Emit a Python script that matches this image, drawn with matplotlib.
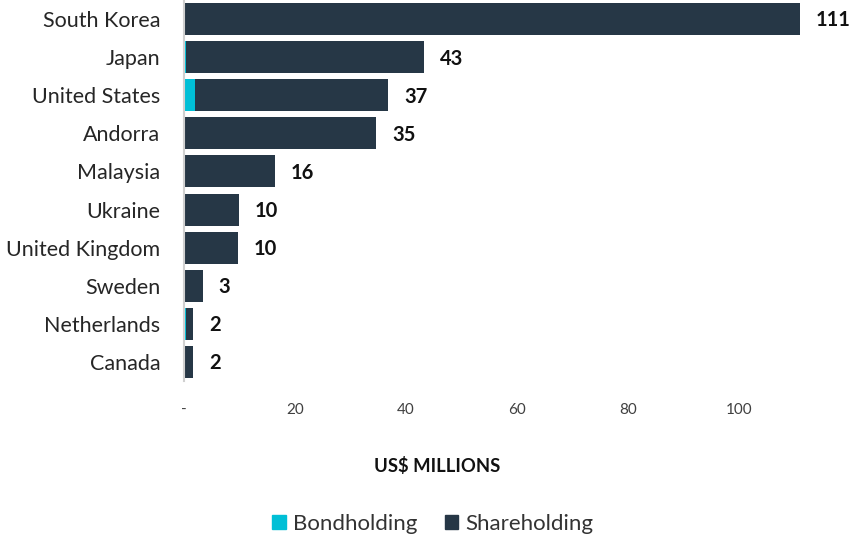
import matplotlib.pyplot as plt
from matplotlib.patches import Patch

plt.rcParams['font.family'] = ['Lato', 'DejaVu Sans']

# data, top to bottom
countries = ['South Korea', 'Japan', 'United States', 'Andorra', 'Malaysia',
             'Ukraine', 'United Kingdom', 'Sweden', 'Netherlands', 'Canada']
bondholding = [0.0, 0.3, 2.0, 0.0, 0.0, 0.0, 0.0, 0.0, 0.3, 0.0]
shareholding = [111.0, 42.9, 34.8, 34.6, 16.4, 9.9, 9.7, 3.4, 1.3, 1.6]
totals = [111, 43, 37, 35, 16, 10, 10, 3, 2, 2]
xticks = [0, 20, 40, 60, 80, 100]
xtick_labels = ['-', '20', '40', '60', '80', '100']

bond_color = '#00bfd6'
share_color = '#263746'

fig = plt.figure(figsize=(8.53, 5.41), dpi=100)
ax = fig.add_axes([0.2157, 0.2957, 0.7808, 0.7043])

y = list(range(len(countries)))
ax.barh(y, bondholding, height=0.84, color=bond_color, label='Bondholding')
ax.barh(y, shareholding, left=bondholding, height=0.84, color=share_color,
        label='Shareholding')

for i, t in enumerate(totals):
    end = bondholding[i] + shareholding[i]
    ax.annotate(str(t), xy=(end, i), xytext=(11.5, -1), textcoords='offset points',
                ha='left', va='center', fontsize=14.5, fontweight='bold',
                color='#111111', clip_on=False)

ax.set_ylim(len(countries) - 0.5, -0.5)
ax.set_xlim(0, 120)
ax.set_yticks(y)
ax.set_yticklabels(countries, fontsize=15.5, color='#262626')
ax.set_xticks(xticks)
ax.set_xticklabels(xtick_labels, fontsize=11, color='#404040')
ax.tick_params(axis='both', length=0)
ax.tick_params(axis='y', pad=17)
ax.tick_params(axis='x', pad=16)

for s in ['top', 'right', 'bottom']:
    ax.spines[s].set_visible(False)
ax.spines['left'].set_color('#d0d0d0')
ax.spines['left'].set_linewidth(1.5)

fig.text(437 / 853, 1 - 466 / 541, 'US$ MILLIONS', ha='center', va='center',
         fontsize=13.3, fontweight='bold', color='#111111')

handles = [Patch(color=bond_color, label='Bondholding'),
           Patch(color=share_color, label='Shareholding')]
fig.legend(handles=handles, loc='center', bbox_to_anchor=(433 / 853, 1 - 524 / 541),
           ncol=2, frameon=False, fontsize=16, handlelength=0.6, handleheight=0.6,
           handletextpad=0.35, columnspacing=1.2, labelcolor='#333333')

fig.savefig('out.png', dpi=100)
